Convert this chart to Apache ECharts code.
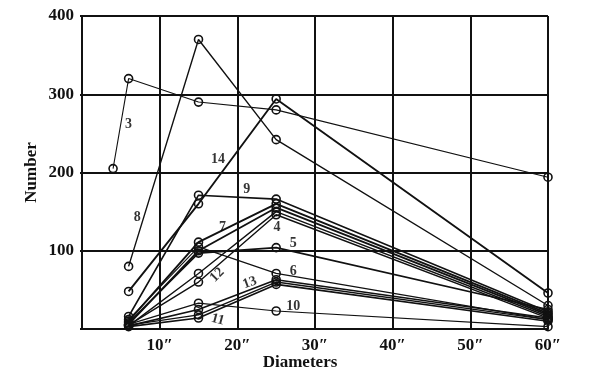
<!DOCTYPE html>
<html>
<head>
<meta charset="utf-8">
<script src="https://cdn.jsdelivr.net/npm/echarts@6/dist/echarts.min.js"></script>
<style>html,body{margin:0;padding:0;background:#fff}#c{width:600px;height:376px}</style>
</head>
<body>
<div id="c"></div>
<script>
// Diameters (inches) at which counts were taken
const diam = [6, 15, 25, 60];
// Series values (Number) at each diameter
const s3  = [[4, 205], [6, 320], [15, 290], [25, 280], [60, 194]];
const s8  = [80, 370, 242, 30];
const s14 = [48, 160, 294, 46];
const s9  = [16, 171, 166, 22];
const s7  = [10, 111, 160, 20];
const s4  = [6, 100, 155, 18];
const s12 = [4, 71, 150, 16];
const sA  = [5, 60, 146, 14];
const s5  = [8, 97, 104, 25];
const s6  = [12, 105, 71, 12];
const s13 = [4, 25, 63, 14];
const s11 = [3, 14, 57, 10];
const sB  = [5, 18, 60, 12];
const s10 = [6, 33, 23, 3];

// Series name labels: [text, diameter, number, rotation]
const tags = [
  ['3', 6.0, 261, 0], ['14', 17.5, 217, 0], ['8', 7.1, 143, 0], ['9', 21.2, 178, 0],
  ['7', 18.1, 130, 0], ['4', 25.1, 130, 0], ['5', 27.2, 109, 0], ['12', 17.4, 69, 45],
  ['6', 27.2, 74, 0], ['13', 21.6, 59, 20], ['10', 27.2, 29, 0], ['11', 17.5, 12, -15]
];
const yTicks = [100, 200, 300, 400];

const pair = arr => arr.map((v, i) => [diam[i], v]);
const font = 'Liberation Serif';
function line(name, data, w) {
  return {
    name, type: 'line', data, symbol: 'circle', symbolSize: 8, silent: true,
    lineStyle: {color: '#111', width: w},
    itemStyle: {color: 'rgba(255,255,255,0)', borderColor: '#111', borderWidth: 1.6},
    z: 3
  };
}
const series = [
  line('3', s3, 1.1), line('8', pair(s8), 1.4), line('14', pair(s14), 1.9),
  line('9', pair(s9), 1.6), line('7', pair(s7), 1.9), line('4', pair(s4), 1.9),
  line('12', pair(s12), 1.4), line('a', pair(sA), 1.4), line('5', pair(s5), 1.6),
  line('6', pair(s6), 1.2), line('13', pair(s13), 1.6), line('11', pair(s11), 1.6),
  line('b', pair(sB), 1.4), line('10', pair(s10), 1.2),
  {
    type: 'scatter', symbolSize: 0, silent: true, z: 5,
    data: tags.map(t => ({value: [t[1], t[2]], name: t[0], label: {rotate: t[3]}})),
    label: {show: true, position: 'inside', formatter: p => p.name,
      fontFamily: font, fontWeight: 'bold', fontSize: 14, color: '#000'}
  }
];

const chart = echarts.init(document.getElementById('c'), null, {renderer: 'canvas'});
chart.setOption({
  backgroundColor: '#fff',
  animation: false,
  grid: {left: 82, right: 52, top: 16, bottom: 47, containLabel: false},
  xAxis: {
    type: 'value', min: 0, max: 60, interval: 10,
    name: 'Diameters', nameLocation: 'middle', nameGap: 25, nameMoveOverlap: false,
    nameTextStyle: {fontFamily: font, fontWeight: 'bold', fontSize: 17, color: '#111', padding: [0, 30, 0, 0]},
    axisLine: {show: true, lineStyle: {color: '#111', width: 2}},
    axisTick: {show: false},
    axisLabel: {formatter: v => v === 0 ? '' : v + '\u2033', fontFamily: font, fontWeight: 'bold', fontSize: 17, color: '#111', margin: 8},
    splitLine: {show: true, lineStyle: {color: '#111', width: 2}}
  },
  yAxis: {
    type: 'value', min: 0, max: 400, interval: 100,
    name: 'Number', nameLocation: 'middle', nameGap: 42, nameRotate: 90, nameMoveOverlap: false,
    nameTextStyle: {fontFamily: font, fontWeight: 'bold', fontSize: 17, color: '#111'},
    axisLine: {show: true, lineStyle: {color: '#111', width: 2}},
    axisTick: {show: true, length: 2, lineStyle: {color: '#111', width: 2}},
    axisLabel: {formatter: v => yTicks.includes(v) ? String(v) : '', fontFamily: font, fontWeight: 'bold', fontSize: 17, color: '#111', margin: 8},
    splitLine: {show: true, lineStyle: {color: '#111', width: 2}}
  },
  series
});
</script>
</body>
</html>
